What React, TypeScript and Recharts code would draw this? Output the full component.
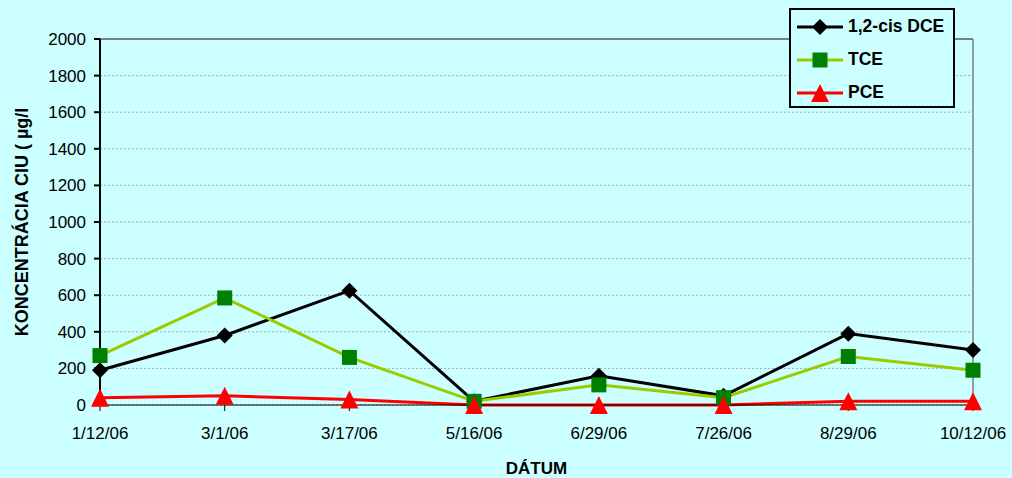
import {
  LineChart,
  Line,
  XAxis,
  YAxis,
  CartesianGrid,
  Legend,
  ReferenceLine,
} from "recharts";

const dates = [
  "1/12/06",
  "3/1/06",
  "3/17/06",
  "5/16/06",
  "6/29/06",
  "7/26/06",
  "8/29/06",
  "10/12/06",
];
const dce = [190, 380, 625, 20, 160, 50, 390, 300];
const tce = [270, 585, 260, 20, 110, 40, 265, 190];
const pce = [40, 50, 30, 0, 0, 0, 20, 20];
const yTicks = [0, 200, 400, 600, 800, 1000, 1200, 1400, 1600, 1800, 2000];

const chartData = dates.map((date, i) => ({
  date,
  dce: dce[i],
  tce: tce[i],
  pce: pce[i],
}));

const BG = "#CCFFFF";
const FONT = "Arial, 'Liberation Sans', sans-serif";

const Diamond = ({ cx, cy }: any) => (
  <polygon
    points={`${cx},${cy - 8} ${cx + 8},${cy} ${cx},${cy + 8} ${cx - 8},${cy}`}
    fill="#000000"
  />
);

const Square = ({ cx, cy }: any) => (
  <rect x={cx - 7.5} y={cy - 7.5} width={15} height={15} fill="#008000" />
);

const Triangle = ({ cx, cy }: any) => (
  <polygon
    points={`${cx},${cy - 9} ${cx + 9},${cy + 9} ${cx - 9},${cy + 9}`}
    fill="#FF0000"
  />
);

// legend rows keep the series order, not alphabetical
const legendOrder = ["dce", "tce", "pce"];
const legendIcons: Record<string, any> = {
  dce: { color: "#000000", marker: Diamond },
  tce: { color: "#99CC00", marker: Square },
  pce: { color: "#FF0000", marker: Triangle },
};

const LegendBox = ({ payload }: any) => {
  const items = [...(payload || [])].sort(
    (a: any, b: any) =>
      legendOrder.indexOf(a.dataKey) - legendOrder.indexOf(b.dataKey)
  );
  return (
    <div>
      {items.map((p: any) => {
        const icon = legendIcons[p.dataKey];
        const Marker = icon.marker;
        return (
          <div
            key={p.dataKey}
            style={{
              display: "flex",
              alignItems: "center",
              height: 33,
              whiteSpace: "nowrap",
            }}
          >
            <svg width={52} height={20} style={{ marginLeft: 5, flexShrink: 0 }}>
              <line x1={1} y1={10} x2={47} y2={10} stroke={icon.color} strokeWidth={3} />
              <Marker cx={24} cy={10} />
            </svg>
            <span
              style={{
                fontFamily: FONT,
                fontWeight: "bold",
                fontSize: 17.5,
                color: "#000",
              }}
            >
              {p.value}
            </span>
          </div>
        );
      })}
    </div>
  );
};

const YLabel = ({ viewBox }: any) => {
  const x = viewBox.x + 22;
  const y = viewBox.y + viewBox.height / 2;
  return (
    <text
      x={x}
      y={y}
      transform={`rotate(-90, ${x}, ${y})`}
      textAnchor="middle"
      dominantBaseline="central"
      fontFamily={FONT}
      fontWeight="bold"
      fontSize={18}
      fill="#000"
    >
      KONCENTRÁCIA CIU ( µg/l
    </text>
  );
};

const XLabel = ({ viewBox }: any) => (
  <text
    x={viewBox.x + viewBox.width / 2}
    y={viewBox.y + 69}
    textAnchor="middle"
    fontFamily={FONT}
    fontWeight="bold"
    fontSize={17}
    fill="#000"
  >
    DÁTUM
  </text>
);

const tickStyle = { fontFamily: FONT, fontSize: 17, fill: "#000" };

export default function App() {
  return (
    <div style={{ position: "absolute", left: 0, top: 0, background: BG }}>
      <LineChart
        width={1012}
        height={478}
        data={chartData}
        margin={{ top: 39, right: 39, left: 0, bottom: 0 }}
      >
        <CartesianGrid
          vertical={false}
          stroke="#A8A8A8"
          strokeDasharray="2 2"
        />
        <ReferenceLine y={2000} stroke="#808080" strokeWidth={2} />
        <ReferenceLine x="10/12/06" stroke="#808080" strokeWidth={1.5} />
        <XAxis
          dataKey="date"
          interval={0}
          height={73}
          tick={tickStyle}
          tickSize={6}
          tickMargin={16}
          stroke="#000"
          label={<XLabel />}
        />
        <YAxis
          domain={[0, 2000]}
          ticks={yTicks}
          interval={0}
          width={100}
          tick={tickStyle}
          tickSize={6}
          tickMargin={8}
          stroke="#000"
          strokeWidth={2}
          label={<YLabel />}
        />
        <Legend
          layout="vertical"
          align="center"
          verticalAlign="middle"
          content={<LegendBox />}
          wrapperStyle={{
            left: 789,
            top: 8,
            width: 166,
            height: 100,
            border: "2px solid #000",
            boxSizing: "border-box",
            background: BG,
          }}
        />
        <Line
          dataKey="dce"
          name="1,2-cis DCE"
          stroke="#000000"
          strokeWidth={3}
          dot={<Diamond />}
          isAnimationActive={false}
        />
        <Line
          dataKey="tce"
          name="TCE"
          stroke="#99CC00"
          strokeWidth={3}
          dot={<Square />}
          isAnimationActive={false}
        />
        <Line
          dataKey="pce"
          name="PCE"
          stroke="#FF0000"
          strokeWidth={3}
          dot={<Triangle />}
          isAnimationActive={false}
        />
      </LineChart>
    </div>
  );
}
